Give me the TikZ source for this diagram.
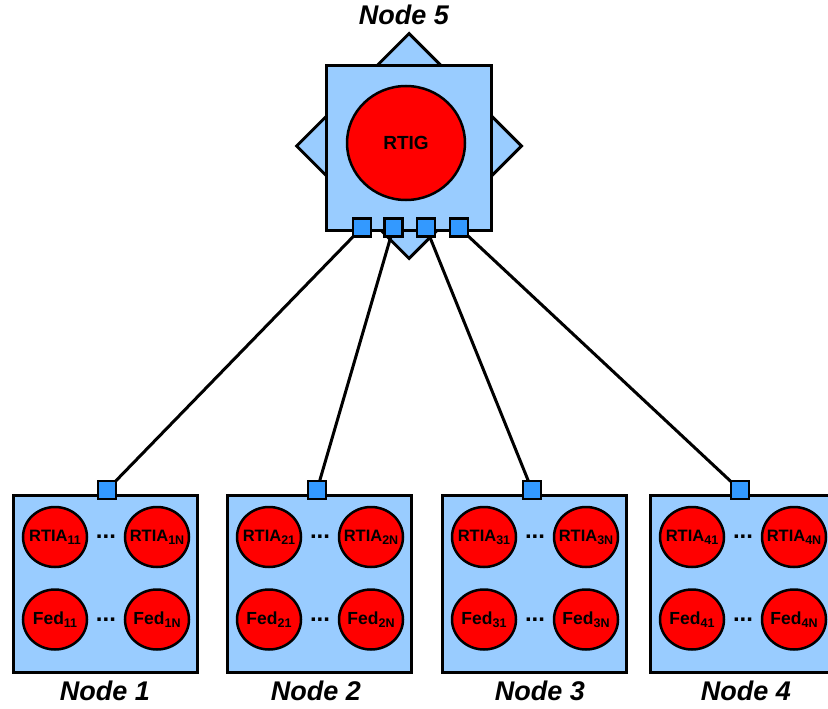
\documentclass[tikz,border=0pt]{standalone}
\usepackage{fontspec}
\setmainfont{Liberation Sans}
\usetikzlibrary{shapes.geometric}
\pgfdeclarelayer{front}
\pgfsetlayers{main,front}
\definecolor{boxblue}{HTML}{99CCFF}
\definecolor{portblue}{HTML}{3399FF}
\definecolor{procred}{HTML}{FF0000}
\newcommand{\lowtxt}[1]{\raisebox{-0.35ex}{\fontsize{12.5}{12.5}\selectfont #1}}
\tikzset{
  hostbox/.style={draw=black, line width=3pt, fill=boxblue, minimum width=184pt, minimum height=177pt, inner sep=0pt},
  portsq/.style={draw=black, line width=2.2pt, fill=portblue, minimum size=18pt, inner sep=0pt},
  proc/.style={ellipse, draw=black, line width=2.5pt, fill=procred, minimum width=64pt, minimum height=60pt, inner sep=0pt},
  proctext/.style={font=\fontsize{16.5}{16.5}\selectfont\bfseries, text=black, inner sep=0pt},
  fedtext/.style={font=\fontsize{17.5}{17.5}\selectfont\bfseries, text=black, inner sep=0pt},
  dotsep/.style={font=\fontsize{24}{24}\selectfont\bfseries, inner sep=0pt},
  hostlabel/.style={font=\fontsize{27}{27}\selectfont\bfseries\itshape, anchor=base, inner sep=0pt},
  link/.style={draw=black, line width=3pt},
}
\begin{document}
\begin{tikzpicture}[x=1pt,y=-1pt]
\useasboundingbox (0,0) rectangle (828,709);
\clip (0,0) rectangle (828,709);
% Node 5
\node[diamond, draw=black, line width=3pt, fill=boxblue, minimum width=226pt, minimum height=226pt, inner sep=0pt] (n5d) at (409,146) {};
\node[hostbox, minimum width=165pt, minimum height=164pt] (n5) at (408.5,148) {};
\node[proc, minimum width=118pt, minimum height=114pt, label={[font=\fontsize{19}{19}\selectfont\bfseries, text=black, inner sep=0pt]center:RTIG}] (rtig) at (406,143) {};
\node[hostlabel] (l5) at (404,25) {Node 5};
\begin{pgfonlayer}{front}
\node[portsq] (p5a) at (362,227.5) {};
\node[portsq] (p5b) at (393.5,227.5) {};
\node[portsq] (p5c) at (426,227.5) {};
\node[portsq] (p5d) at (459,227.5) {};
\end{pgfonlayer}
% bottom nodes
\foreach \i/\x/\px/\lx in {1/105/107/105, 2/319/317/316, 3/534/532/540, 4/742/740/746}{
  \node[hostbox] (n\i) at (\x,583.5) {};
  \node[proc, label={[proctext]center:RTIA\lowtxt{\i1}}] (r\i a) at ({\x-50},537) {};
  \node[proc, label={[proctext]center:RTIA\lowtxt{\i N}}] (r\i b) at ({\x+52},537) {};
  \node[proc, label={[fedtext]center:Fed\lowtxt{\i1}}] (f\i a) at ({\x-50},619.5) {};
  \node[proc, label={[fedtext]center:Fed\lowtxt{\i N}}] (f\i b) at ({\x+52},619.5) {};
  \node[dotsep] (dr\i) at ({\x+1},537) {...};
  \node[dotsep] (df\i) at ({\x+1},619.5) {...};
  \node[hostlabel] (l\i) at (\lx,700) {Node \i};
  \begin{pgfonlayer}{front}
  \node[portsq] (p\i) at (\px,490) {};
  \end{pgfonlayer}
}
\draw[link] (p5a.center) -- (p1.center);
\draw[link] (p5b.center) -- (p2.center);
\draw[link] (p5c.center) -- (p3.center);
\draw[link] (p5d.center) -- (p4.center);
\end{tikzpicture}
\end{document}
